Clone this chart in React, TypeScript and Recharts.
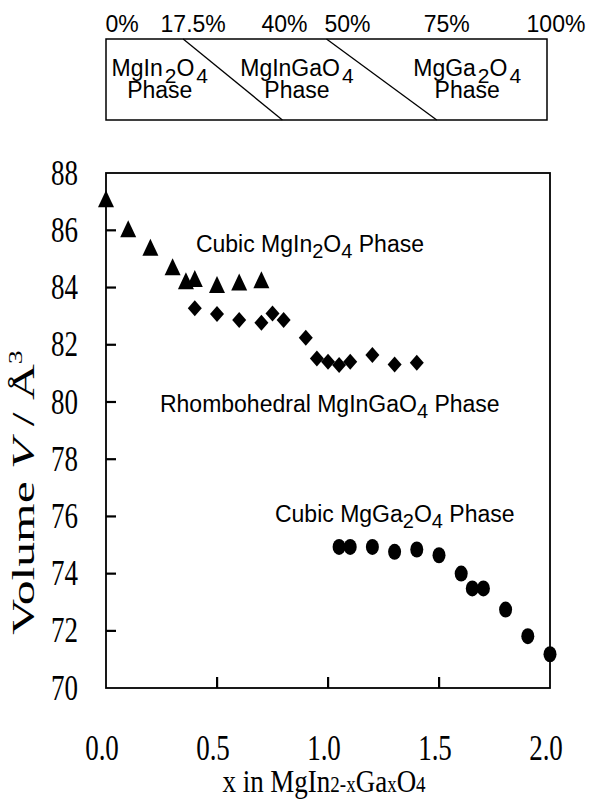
import React from "react";
import {
  ComposedChart, Scatter, XAxis, YAxis,
  ReferenceArea, ReferenceLine, ReferenceDot,
} from "recharts";

// phase diagram strip (percent of Ga)
const pctTicks = [0, 17.5, 40, 50, 75, 100];
const boundaryIn = [17.5, 40];
const boundaryGa = [50, 75];

// cubic MgIn2O4 (triangles)
const cubicInX = [0, 0.1, 0.2, 0.3, 0.36, 0.4, 0.5, 0.6, 0.7];
const cubicInV = [87.05, 86.0, 85.35, 84.67, 84.18, 84.26, 84.05, 84.14, 84.22];

// rhombohedral MgInGaO4 (diamonds)
const rhombX = [0.4, 0.5, 0.6, 0.7, 0.75, 0.8, 0.9, 0.95, 1.0, 1.05, 1.1, 1.2, 1.3, 1.4];
const rhombV = [83.27, 83.07, 82.86, 82.77, 83.09, 82.86, 82.24, 81.52, 81.4, 81.29, 81.4, 81.64, 81.31, 81.37];

// cubic MgGa2O4 (circles)
const cubicGaX = [1.05, 1.1, 1.2, 1.3, 1.4, 1.5, 1.6, 1.65, 1.7, 1.8, 1.9, 2.0];
const cubicGaV = [74.93, 74.93, 74.93, 74.76, 74.84, 74.64, 74.0, 73.48, 73.48, 72.74, 71.81, 71.18];

const xDomain = [0, 2];
const yDomain = [70, 88];
const xTicks = [0, 0.5, 1.0, 1.5, 2.0];
const yTicks = [70, 72, 74, 76, 78, 80, 82, 84, 86, 88];

const toPts = (xs: number[], ys: number[]) => xs.map((x, i) => ({ x, v: ys[i] }));
const cubicIn = toPts(cubicInX, cubicInV);
const rhomb = toPts(rhombX, rhombV);
const cubicGa = toPts(cubicGaX, cubicGaV);
const stripData = pctTicks.map((p) => ({ p, y: 0.5 }));

const SANS = "'Liberation Sans', Arial, sans-serif";
const SERIF = "'Liberation Serif', 'Times New Roman', serif";
const STRETCH = 1.3;

const Triangle = ({ cx, cy }: any) => (
  <path d={`M${cx},${cy - 10} L${cx + 8},${cy + 7} L${cx - 8},${cy + 7} Z`} fill="#000" />
);
const Diamond = ({ cx, cy }: any) => (
  <path d={`M${cx},${cy - 8} L${cx + 7},${cy} L${cx},${cy + 8} L${cx - 7},${cy} Z`} fill="#000" />
);
const Dot = ({ cx, cy }: any) => <ellipse cx={cx} cy={cy} rx={6.5} ry={8} fill="#000" />;

// plot frame with inward tick marks, placed inside the area's scaled box
const Frame = ({ x, y, width, height }: any) => {
  const xs = xTicks.slice(1, -1).map((t) => x + (width * (t - xDomain[0])) / (xDomain[1] - xDomain[0]));
  const ys = yTicks.slice(1, -1).map((t) => y + (height * (yDomain[1] - t)) / (yDomain[1] - yDomain[0]));
  return (
    <g>
      <rect x={x} y={y} width={width} height={height} stroke="#000" strokeWidth={1.8} fill="none" />
      {xs.map((px, i) => (
        <rect key={`xt${i}`} x={px - 1} y={y + height - 11} width={2.2} height={11} fill="#000" />
      ))}
      {ys.map((py, i) => (
        <rect key={`yt${i}`} x={x} y={py - 1} width={10} height={2.2} fill="#000" />
      ))}
    </g>
  );
};

const pctShift: Record<string, number> = { "0": 16, "17.5": 10, "40": 2, "50": 21, "75": 10, "100": 9 };
const PctTick = ({ x, y, payload }: any) => (
  <text x={x + (pctShift[String(payload.value)] || 0)} y={y} textAnchor="middle" fontFamily={SANS} fontSize={23} fill="#000">
    {payload.value}%
  </text>
);

const XTick = ({ x, y, payload }: any) => (
  <text transform={`translate(${x - 4},${y}) scale(1,${STRETCH})`} textAnchor="middle" fontFamily={SERIF} fontSize={27} fill="#000">
    {payload.value.toFixed(1)}
  </text>
);
const YTick = ({ x, y, payload }: any) => (
  <text transform={`translate(${x},${y}) scale(1,${STRETCH})`} y={9} textAnchor="end" fontFamily={SERIF} fontSize={27} fill="#000">
    {payload.value}
  </text>
);

const PhaseBox = ({ cx, cy, name, sub }: any) => (
  <text x={cx} y={cy - 4} textAnchor="middle" fontFamily={SANS} fontSize={23} fill="#000">
    {name.map((part: string, i: number) =>
      i % 2 === 0 ? <tspan key={i} dy={i === 0 ? 0 : -7}>{part}</tspan>
        : <tspan key={i} dy={7} dx={2} fontSize={21}>{part}</tspan>)}
    <tspan x={cx} y={cy + 18}>{sub}</tspan>
  </text>
);

const InlineLabel = ({ cx, cy, parts }: any) => (
  <text x={cx} y={cy} fontFamily={SANS} fontSize={23} fill="#000">
    {parts.map((part: string, i: number) =>
      i % 2 === 0 ? <tspan key={i} dy={i === 0 ? 0 : -6} fontSize={23}>{part}</tspan>
        : <tspan key={i} dy={6} fontSize={20}>{part}</tspan>)}
  </text>
);

const YTitle = ({ viewBox }: any) => {
  const cx = viewBox.x + 34;
  const cy = viewBox.y + viewBox.height / 2 + 62;
  return (
    <text transform={`translate(${cx},${cy}) rotate(-90) scale(1.55,1)`} textAnchor="middle" fontFamily={SERIF} fontSize={32} fill="#000">
      Volume  <tspan fontStyle="italic">V</tspan> / Å<tspan dy={-12} fontSize={18}>3</tspan>
    </text>
  );
};

const XTitle = ({ viewBox }: any) => {
  const cx = viewBox.x + viewBox.width / 2 - 4;
  const cy = viewBox.y + viewBox.height - 8;
  return (
    <text transform={`translate(${cx},${cy}) scale(1,1.2)`} textAnchor="middle" fontFamily={SERIF} fontSize={27} fill="#000">
      x in MgIn<tspan fontSize={19}>2-x</tspan>Ga<tspan fontSize={19}>x</tspan>O<tspan fontSize={19}>4</tspan>
    </text>
  );
};

export default function App() {
  return (
    <div style={{ position: "absolute", left: 0, top: 0, width: 593, height: 800, background: "#fff" }}>
      <div style={{ position: "absolute", left: 0, top: 0 }}>
        <ComposedChart width={593} height={130} data={stripData} margin={{ top: 0, right: 46, bottom: 10, left: 106 }}>
          <XAxis type="number" dataKey="p" orientation="top" domain={[0, 100]} ticks={pctTicks}
            axisLine={false} tickLine={false} tickSize={0} tickMargin={7} height={39} tick={<PctTick />} interval={0} />
          <YAxis type="number" dataKey="y" domain={[0, 1]} hide />
          <ReferenceArea x1={0} x2={100} y1={0} y2={1} fill="none" stroke="#000" strokeWidth={1.5} fillOpacity={0} />
          <ReferenceLine segment={[{ x: boundaryIn[0], y: 1 }, { x: boundaryIn[1], y: 0 }]} stroke="#000" strokeWidth={1.3} />
          <ReferenceLine segment={[{ x: boundaryGa[0], y: 1 }, { x: boundaryGa[1], y: 0 }]} stroke="#000" strokeWidth={1.3} />
          <ReferenceDot x={12.2} y={0.5} r={0} shape={(p: any) => <PhaseBox cx={p.cx} cy={p.cy} name={["MgIn", "2", "O", "4"]} sub="Phase" />} />
          <ReferenceDot x={43.3} y={0.5} r={0} shape={(p: any) => <PhaseBox cx={p.cx} cy={p.cy} name={["MgInGaO", "4"]} sub="Phase" />} />
          <ReferenceDot x={81.9} y={0.5} r={0} shape={(p: any) => <PhaseBox cx={p.cx} cy={p.cy} name={["MgGa", "2", "O", "4"]} sub="Phase" />} />
        </ComposedChart>
      </div>
      <div style={{ position: "absolute", left: 0, top: 130 }}>
        <ComposedChart width={593} height={670} data={cubicGa} margin={{ top: 43, right: 43, bottom: 0, left: 0 }}>
          <XAxis type="number" dataKey="x" domain={xDomain} ticks={xTicks} height={112} interval={0}
            axisLine={false} tickLine={false} tickSize={0} tickMargin={72} tick={<XTick />}
            label={{ content: (p: any) => <XTitle {...p} /> }} />
          <YAxis type="number" dataKey="v" domain={yDomain} ticks={yTicks} width={106} interval={0}
            axisLine={false} tickLine={false} tickSize={0} tickMargin={28} tick={<YTick />}
            label={{ content: (p: any) => <YTitle {...p} /> }} />
          <ReferenceArea x1={xDomain[0]} x2={xDomain[1]} y1={yDomain[0]} y2={yDomain[1]} ifOverflow="visible" shape={Frame} />
          <Scatter data={cubicIn} dataKey="v" shape={<Triangle />} isAnimationActive={false} />
          <Scatter data={rhomb} dataKey="v" shape={<Diamond />} isAnimationActive={false} />
          <Scatter data={cubicGa} dataKey="v" shape={<Dot />} isAnimationActive={false} />
          <ReferenceDot x={0.405} y={85.25} r={0} shape={(p: any) => <InlineLabel cx={p.cx} cy={p.cy} parts={["Cubic MgIn", "2", "O", "4", " Phase"]} />} />
          <ReferenceDot x={0.243} y={79.64} r={0} shape={(p: any) => <InlineLabel cx={p.cx} cy={p.cy} parts={["Rhombohedral MgInGaO", "4", " Phase"]} />} />
          <ReferenceDot x={0.761} y={75.8} r={0} shape={(p: any) => <InlineLabel cx={p.cx} cy={p.cy} parts={["Cubic MgGa", "2", "O", "4", " Phase"]} />} />
        </ComposedChart>
      </div>
    </div>
  );
}
